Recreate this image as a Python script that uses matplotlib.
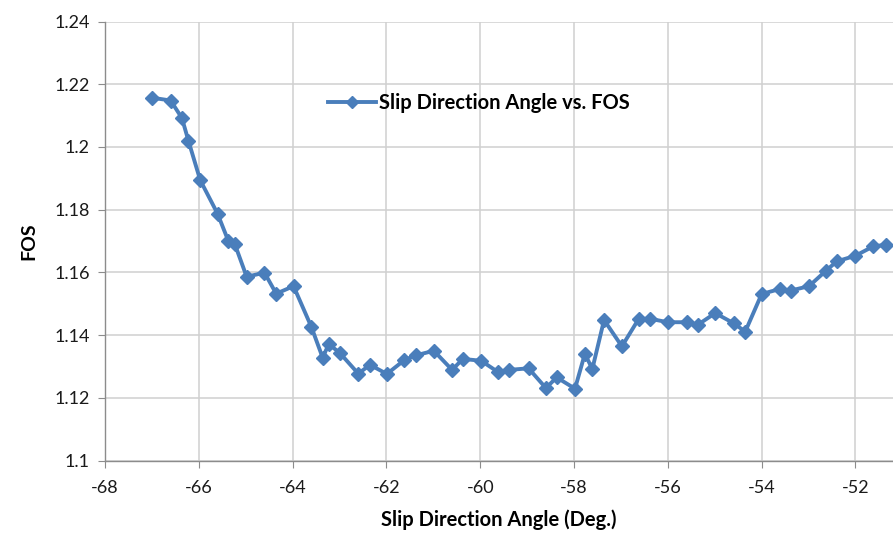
import matplotlib.pyplot as plt

# Slip direction angle (deg.) and factor of safety
angle = [-67.0, -66.6, -66.36, -66.22, -65.97, -65.6, -65.37, -65.23, -64.98, -64.6,
         -64.35, -63.98, -63.6, -63.36, -63.23, -63.0, -62.6, -62.35, -61.99, -61.62,
         -61.38, -60.99, -60.6, -60.37, -59.98, -59.63, -59.38, -58.97, -58.6, -58.37,
         -57.98, -57.77, -57.61, -57.36, -56.98, -56.62, -56.38, -56.0, -55.6, -55.36,
         -54.99, -54.6, -54.35, -54.0, -53.61, -53.38, -52.99, -52.63, -52.4, -52.0,
         -51.62, -51.35]
fos = [1.2157, 1.2148, 1.2092, 1.2019, 1.1894, 1.1787, 1.1700, 1.1689, 1.1586, 1.1599,
       1.1532, 1.1556, 1.1426, 1.1328, 1.1371, 1.1344, 1.1277, 1.1305, 1.1276, 1.1320,
       1.1335, 1.1350, 1.1289, 1.1324, 1.1318, 1.1283, 1.1289, 1.1294, 1.1231, 1.1265,
       1.1229, 1.1340, 1.1292, 1.1448, 1.1364, 1.1452, 1.1452, 1.1441, 1.1441, 1.1433,
       1.1470, 1.1438, 1.1411, 1.1531, 1.1547, 1.1542, 1.1556, 1.1605, 1.1635, 1.1653,
       1.1683, 1.1688]

x_ticks = [-68, -66, -64, -62, -60, -58, -56, -54, -52]
y_ticks = [1.1, 1.12, 1.14, 1.16, 1.18, 1.2, 1.22, 1.24]
y_labels = ['1.1', '1.12', '1.14', '1.16', '1.18', '1.2', '1.22', '1.24']

plt.rcParams['font.family'] = ['Lato', 'DejaVu Sans']

fig = plt.figure(figsize=(8.93, 5.38), dpi=100)
ax = fig.add_axes([105 / 893, 1 - 460.5 / 538, 1 - 105 / 893, (460.5 - 21.5) / 538])

ax.plot(angle, fos, color='#4a7ebb', linewidth=2.8, marker='D', markersize=7.5,
        label='Slip Direction Angle vs. FOS')

ax.set_xlim(-68, -51.2)
ax.set_ylim(1.1, 1.24)
ax.set_xticks(x_ticks)
ax.set_xticklabels([str(t) for t in x_ticks])
ax.set_yticks(y_ticks)
ax.set_yticklabels(y_labels)
ax.grid(True, color='#d0d0d0', linewidth=1.1)
ax.set_axisbelow(True)

for side in ['top', 'right']:
    ax.spines[side].set_visible(False)
for side in ['left', 'bottom']:
    ax.spines[side].set_color('#8c8c8c')
    ax.spines[side].set_linewidth(1.0)
ax.tick_params(axis='both', direction='out', length=5, color='#8c8c8c',
               labelsize=13, labelcolor='#1a1a1a')
ax.tick_params(axis='x', pad=9)
ax.tick_params(axis='y', pad=6)

ax.set_xlabel('Slip Direction Angle (Deg.)', fontsize=14.5, fontweight='bold', labelpad=10)
ax.set_ylabel('FOS', fontsize=14, fontweight='bold', labelpad=12)

leg = ax.legend(loc='center left', bbox_to_anchor=(0.283, 0.814), frameon=False,
                fontsize=14.5, handlelength=2.4, handletextpad=0.15, markerscale=0.8,
                borderpad=0, borderaxespad=0)
for t in leg.get_texts():
    t.set_fontweight('bold')

fig.savefig('out.png', dpi=100)
